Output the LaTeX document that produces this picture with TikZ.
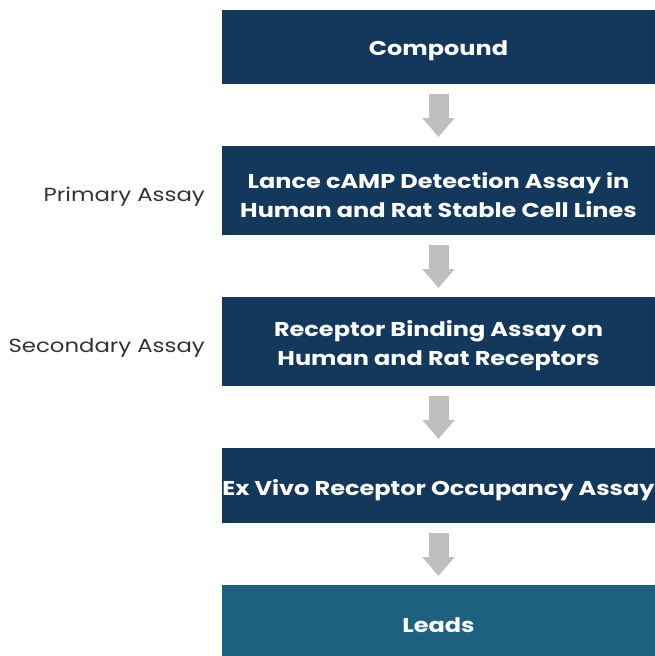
\documentclass[tikz,border=0pt]{standalone}
\usepackage{fontspec}
\setmainfont{Poppins}
\newfontfamily\boxfont[FakeStretch=1.2]{Poppins}
\newfontfamily\sidefont[FakeStretch=1.2]{Poppins}
\usetikzlibrary{arrows.meta}
\definecolor{navy}{HTML}{14375C}
\definecolor{teal}{HTML}{1E607F}
\definecolor{arrowgray}{HTML}{BFBFBF}
\definecolor{labelgray}{HTML}{333333}
\begin{document}
\begin{tikzpicture}[x=1pt,y=-1pt,
  box/.style={fill=navy, minimum width=433pt, inner sep=0pt, anchor=north},
  boxtext/.style={text=white, font=\boxfont\bfseries\fontsize{20}{29}\selectfont, align=center,
    inner sep=0pt, yshift=-4pt},
  side/.style={text=labelgray, font=\sidefont\fontsize{19}{22}\selectfont, anchor=east, inner sep=0pt},
  flow/.style={draw=arrowgray, line width=20pt, -{Triangle[width=31pt,length=19pt]},
    shorten <=10pt, shorten >=9pt}]
\useasboundingbox (0,0) rectangle (655,656);
\node[box, minimum height=74pt, label={[boxtext]center:Compound}] (b1) at (438.5,10) {};
\node[box, minimum height=89pt, label={[boxtext]center:{Lance cAMP Detection Assay in\\Human and Rat Stable Cell Lines}}] (b2) at (438.5,146) {};
\node[box, minimum height=89pt, label={[boxtext]center:{Receptor Binding Assay on\\Human and Rat Receptors}}] (b3) at (438.5,297) {};
\node[box, minimum height=75pt, label={[boxtext]center:Ex Vivo Receptor Occupancy Assay}] (b4) at (438.5,448) {};
\node[box, minimum height=72pt, fill=teal, label={[boxtext]center:Leads}] (b5) at (438.5,585) {};
\node[side] (l1) at (205,197) {Primary Assay};
\node[side] (l2) at (205,348) {Secondary Assay};
\draw[flow] (b1.south) -- (b2.north);
\draw[flow] (b2.south) -- (b3.north);
\draw[flow] (b3.south) -- (b4.north);
\draw[flow] (b4.south) -- (b5.north);
\end{tikzpicture}
\end{document}
